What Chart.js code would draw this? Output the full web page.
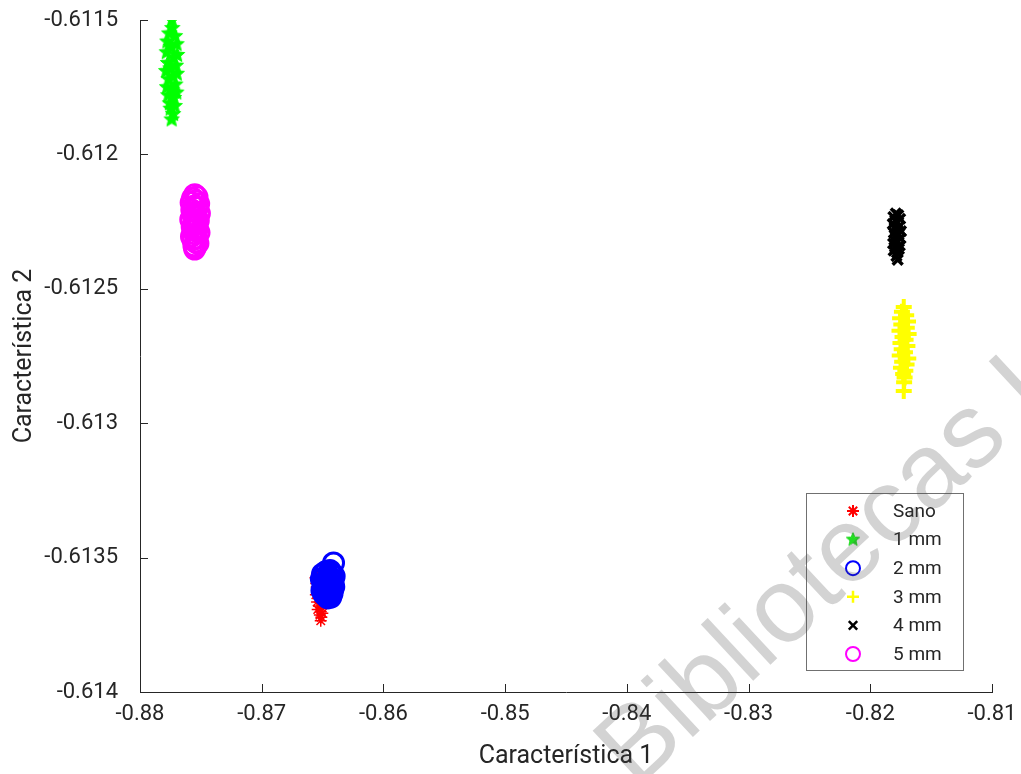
<!DOCTYPE html>
<html>
<head>
<meta charset="utf-8">
<script src="https://cdn.jsdelivr.net/npm/chart.js@4.4.1/dist/chart.umd.min.js"></script>
<style>
  html, body { margin: 0; padding: 0; background: #fff; }
  #wrap { width: 1021px; height: 774px; }
</style>
</head>
<body>
<div id="wrap"><canvas id="chart" width="1021" height="774"></canvas></div>
<script>
// series names (legend order)
const seriesNames = ['Sano', '1 mm', '2 mm', '3 mm', '4 mm', '5 mm'];

// Sano
const sanoX = [-0.86545, -0.86520, -0.86558, -0.86530, -0.86510, -0.86552, -0.86525, -0.86548, -0.86505, -0.86538, -0.86518, -0.86555, -0.86500, -0.86533, -0.86512, -0.86545, -0.86495, -0.86528, -0.86508, -0.86540, -0.86515, -0.86502, -0.86522, -0.86510, -0.86515];
const sanoY = [-0.613560, -0.613568, -0.613575, -0.613581, -0.613589, -0.613596, -0.613602, -0.613609, -0.613617, -0.613623, -0.613630, -0.613638, -0.613644, -0.613651, -0.613659, -0.613665, -0.613672, -0.613680, -0.613686, -0.613693, -0.613701, -0.613707, -0.613714, -0.613722, -0.613735];

// 1 mm
const mm1X = [-0.87738, -0.87735, -0.87760, -0.87712, -0.87775, -0.87700, -0.87745, -0.87780, -0.87695, -0.87725, -0.87770, -0.87705, -0.87750, -0.87785, -0.87698, -0.87730, -0.87765, -0.87710, -0.87778, -0.87742, -0.87702, -0.87768, -0.87722, -0.87755, -0.87715, -0.87748, -0.87728, -0.87740];
const mm1Y = [-0.61150, -0.61153, -0.61155, -0.61156, -0.61158, -0.61159, -0.61160, -0.61162, -0.61163, -0.61164, -0.61166, -0.61167, -0.61168, -0.61169, -0.61170, -0.61171, -0.61172, -0.61174, -0.61175, -0.61176, -0.61177, -0.61178, -0.61179, -0.61181, -0.61182, -0.61183, -0.61185, -0.61187];

// 2 mm
const mm2X = [-0.86410, -0.86440, -0.86475, -0.86425, -0.86500, -0.86450, -0.86405, -0.86485, -0.86430, -0.86510, -0.86460, -0.86415, -0.86480, -0.86445, -0.86495, -0.86420, -0.86470, -0.86408, -0.86490, -0.86455, -0.86418, -0.86505, -0.86435, -0.86478, -0.86422, -0.86488, -0.86448, -0.86465, -0.86432, -0.86458];
const mm2Y = [-0.613520, -0.613548, -0.613553, -0.613558, -0.613561, -0.613566, -0.613569, -0.613573, -0.613577, -0.613580, -0.613584, -0.613587, -0.613591, -0.613594, -0.613598, -0.613601, -0.613605, -0.613608, -0.613612, -0.613615, -0.613619, -0.613622, -0.613626, -0.613629, -0.613633, -0.613637, -0.613640, -0.613644, -0.613647, -0.613650];

// 3 mm
const mm3X = [-0.81725, -0.81740, -0.81705, -0.81755, -0.81690, -0.81745, -0.81700, -0.81760, -0.81685, -0.81735, -0.81710, -0.81752, -0.81695, -0.81742, -0.81715, -0.81758, -0.81688, -0.81738, -0.81702, -0.81748, -0.81712, -0.81730, -0.81718, -0.81722, -0.81725];
const mm3Y = [-0.612568, -0.612585, -0.612598, -0.612610, -0.612622, -0.612633, -0.612645, -0.612656, -0.612668, -0.612679, -0.612690, -0.612702, -0.612713, -0.612725, -0.612736, -0.612748, -0.612759, -0.612771, -0.612782, -0.612794, -0.612805, -0.612817, -0.612830, -0.612848, -0.612880];

// 4 mm
const mm4X = [-0.81790, -0.81770, -0.81810, -0.81755, -0.81795, -0.81778, -0.81815, -0.81760, -0.81800, -0.81783, -0.81748, -0.81806, -0.81768, -0.81792, -0.81752, -0.81802, -0.81775, -0.81812, -0.81758, -0.81797, -0.81765, -0.81808, -0.81780, -0.81785, -0.81775];
const mm4Y = [-0.612220, -0.612226, -0.612233, -0.612240, -0.612246, -0.612253, -0.612259, -0.612266, -0.612273, -0.612279, -0.612286, -0.612292, -0.612299, -0.612306, -0.612312, -0.612319, -0.612325, -0.612332, -0.612339, -0.612345, -0.612352, -0.612358, -0.612365, -0.612378, -0.612392];

// 5 mm
const mm5X = [-0.87550, -0.87532, -0.87568, -0.87541, -0.87580, -0.87518, -0.87559, -0.87527, -0.87574, -0.87545, -0.87512, -0.87563, -0.87536, -0.87583, -0.87521, -0.87554, -0.87539, -0.87571, -0.87529, -0.87561, -0.87515, -0.87548, -0.87577, -0.87534, -0.87566, -0.87543, -0.87524, -0.87557, -0.87546, -0.87551];
const mm5Y = [-0.612150, -0.612158, -0.612163, -0.612172, -0.612179, -0.612184, -0.612193, -0.612198, -0.612207, -0.612214, -0.612219, -0.612228, -0.612233, -0.612242, -0.612247, -0.612256, -0.612261, -0.612270, -0.612277, -0.612282, -0.612291, -0.612296, -0.612305, -0.612312, -0.612317, -0.612326, -0.612331, -0.612340, -0.612345, -0.612352];

// axes
const xTicks = [-0.88, -0.87, -0.86, -0.85, -0.84, -0.83, -0.82, -0.81];
const xTickLabels = ['-0.88', '-0.87', '-0.86', '-0.85', '-0.84', '-0.83', '-0.82', '-0.81'];
const yTicks = [-0.614, -0.6135, -0.613, -0.6125, -0.612, -0.6115];
const yTickLabels = ['-0.614', '-0.6135', '-0.613', '-0.6125', '-0.612', '-0.6115'];

const textColor = '#262626';
Chart.defaults.font.family = 'Roboto, "Liberation Sans", sans-serif';
Chart.defaults.color = textColor;

// filled pentagram marker (Chart.js has none)
function starImage(r, color) {
  const c = document.createElement('canvas');
  const s = Math.ceil(r * 2 + 4);
  c.width = s; c.height = s;
  const g = c.getContext('2d');
  g.beginPath();
  for (let k = 0; k < 10; k++) {
    const rr = k % 2 === 0 ? r : r * 0.45;
    const a = -Math.PI / 2 + k * Math.PI / 5;
    const px = s / 2 + rr * Math.cos(a), py = s / 2 + rr * Math.sin(a);
    if (k === 0) g.moveTo(px, py); else g.lineTo(px, py);
  }
  g.closePath();
  g.fillStyle = color; g.fill();
  g.strokeStyle = color; g.lineWidth = 1; g.stroke();
  return c;
}
const greenStar = starImage(8, '#00ff00');
const legendStar = starImage(7, '#22dd22');

function pts(xs, ys) {
  return xs.map((x, i) => ({ x: x, y: ys[i] }));
}

const styles = [
  { color: '#ff0000', pointStyle: 'star', radius: 6, width: 1.5 },
  { color: '#00ff00', pointStyle: greenStar, radius: 8, width: 1 },
  { color: '#0000ff', pointStyle: 'circle', radius: 10, width: 3 },
  { color: '#ffff00', pointStyle: 'cross', radius: 8, width: 4 },
  { color: '#000000', pointStyle: 'crossRot', radius: 7, width: 3.5 },
  { color: '#ff00ff', pointStyle: 'circle', radius: 10, width: 3 }
];
const seriesData = [pts(sanoX, sanoY), pts(mm1X, mm1Y), pts(mm2X, mm2Y), pts(mm3X, mm3Y), pts(mm4X, mm4Y), pts(mm5X, mm5Y)];

const datasets = seriesNames.map((name, i) => ({
  label: name,
  data: seriesData[i],
  order: 10 - i,
  showLine: false,
  pointStyle: styles[i].pointStyle,
  pointRadius: styles[i].radius,
  pointBorderWidth: styles[i].width,
  borderColor: styles[i].color,
  backgroundColor: 'rgba(0,0,0,0)'
}));

// inward tick marks, like the original
const tickMarks = {
  id: 'tickMarks',
  afterDraw(chart) {
    const ctx = chart.ctx, a = chart.chartArea;
    const xs = chart.scales.x, ys = chart.scales.y;
    ctx.save();
    ctx.strokeStyle = textColor;
    ctx.lineWidth = 1;
    ctx.beginPath();
    xTicks.forEach(v => {
      const p = Math.round(xs.getPixelForValue(v)) + 0.5;
      ctx.moveTo(p, a.bottom); ctx.lineTo(p, a.bottom - 8);
    });
    yTicks.forEach(v => {
      const p = Math.round(ys.getPixelForValue(v)) + 0.5;
      ctx.moveTo(a.left, p); ctx.lineTo(a.left + 8, p);
    });
    ctx.stroke();
    ctx.restore();
  }
};

function drawMarker(ctx, st, x, y, r, lw) {
  ctx.save();
  ctx.strokeStyle = st.color;
  ctx.lineWidth = lw;
  ctx.beginPath();
  if (st.pointStyle === 'circle') {
    ctx.arc(x, y, r, 0, Math.PI * 2);
  } else if (st.pointStyle === 'cross') {
    ctx.moveTo(x - r, y); ctx.lineTo(x + r, y);
    ctx.moveTo(x, y - r); ctx.lineTo(x, y + r);
  } else if (st.pointStyle === 'crossRot') {
    const d = r * 0.7;
    ctx.moveTo(x - d, y - d); ctx.lineTo(x + d, y + d);
    ctx.moveTo(x - d, y + d); ctx.lineTo(x + d, y - d);
  } else if (st.pointStyle === 'star') {
    const d = r * 0.7;
    ctx.moveTo(x - r, y); ctx.lineTo(x + r, y);
    ctx.moveTo(x, y - r); ctx.lineTo(x, y + r);
    ctx.moveTo(x - d, y - d); ctx.lineTo(x + d, y + d);
    ctx.moveTo(x - d, y + d); ctx.lineTo(x + d, y - d);
  }
  ctx.stroke();
  ctx.restore();
}

// legend box inside the plot, lower right
const boxLegend = {
  id: 'boxLegend',
  afterDraw(chart) {
    const ctx = chart.ctx, a = chart.chartArea;
    const left = a.right - 186, top = a.top + 473, w = 157, h = 177;
    const markerW = [2, 1, 2, 2.5, 2.5, 2];
    ctx.save();
    ctx.fillStyle = '#ffffff';
    ctx.fillRect(left, top, w, h);
    ctx.strokeStyle = '#707070';
    ctx.lineWidth = 1;
    ctx.strokeRect(left + 0.5, top + 0.5, w, h);
    ctx.font = '19px Roboto, "Liberation Sans", sans-serif';
    ctx.textBaseline = 'middle';
    seriesNames.forEach((name, i) => {
      const yy = top + 18 + i * 28.6;
      const st = styles[i];
      if (i === 1) {
        ctx.drawImage(legendStar, left + 47 - legendStar.width / 2, yy - legendStar.height / 2);
      } else {
        const r = st.pointStyle === 'circle' ? 7 : 6;
        drawMarker(ctx, st, left + 47, yy, r, markerW[i]);
      }
      ctx.fillStyle = textColor;
      ctx.fillText(name, left + 87, yy + 1);
    });
    ctx.restore();
  }
};

// faint, see-through watermark across the figure
const watermark = {
  id: 'watermark',
  afterDraw(chart) {
    const ctx = chart.ctx;
    ctx.save();
    ctx.translate(636, 790);
    ctx.rotate(-43 * Math.PI / 180);
    ctx.font = '106px "Liberation Sans", sans-serif';
    ctx.fillStyle = 'rgba(70,70,70,0.24)';
    ctx.fillText('Bibliotecas U', 0, 0);
    ctx.restore();
  }
};

new Chart(document.getElementById('chart'), {
  type: 'scatter',
  data: { datasets: datasets },
  options: {
    responsive: false,
    animation: false,
    devicePixelRatio: 1,
    layout: { padding: { left: 0, right: 29, top: 20, bottom: 0 } },
    plugins: {
      legend: { display: false },
      tooltip: { enabled: false }
    },
    scales: {
      x: {
        type: 'linear',
        min: -0.88,
        max: -0.81,
        afterBuildTicks: s => { s.ticks = xTicks.map(v => ({ value: v })); },
        afterFit: s => { s.height = 82; s.paddingLeft = 0; s.paddingRight = 0; },
        ticks: {
          callback: (v, i) => xTickLabels[i],
          color: textColor,
          font: { size: 22 },
          padding: 9,
          maxRotation: 0,
          autoSkip: false
        },
        grid: { drawOnChartArea: false, drawTicks: false },
        border: { color: textColor, width: 1 },
        title: {
          display: true,
          text: 'Característica 1',
          color: textColor,
          font: { size: 25 },
          padding: { top: 0, bottom: 2 }
        }
      },
      y: {
        type: 'linear',
        min: -0.614,
        max: -0.6115,
        afterBuildTicks: s => { s.ticks = yTicks.map(v => ({ value: v })); },
        afterFit: s => { s.width = 140; s.paddingTop = 0; s.paddingBottom = 0; },
        ticks: {
          callback: (v, i) => yTickLabels[i],
          color: textColor,
          font: { size: 22 },
          padding: 22,
          autoSkip: false
        },
        grid: { drawOnChartArea: false, drawTicks: false },
        border: { color: textColor, width: 1 },
        title: {
          display: true,
          text: 'Característica 2',
          color: textColor,
          font: { size: 25 },
          padding: { top: 10, bottom: 0 }
        }
      }
    }
  },
  plugins: [tickMarks, boxLegend, watermark]
});
</script>
</body>
</html>
